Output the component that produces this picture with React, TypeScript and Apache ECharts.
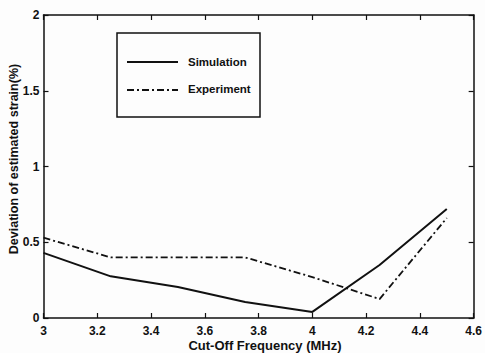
import React, { useEffect, useRef } from "react";
import * as echarts from "echarts";

const freqs = [3, 3.25, 3.5, 3.75, 4, 4.25, 4.5];
const simulation = [0.43, 0.275, 0.205, 0.105, 0.04, 0.35, 0.72];
const experiment = [0.53, 0.4, 0.4, 0.4, 0.27, 0.125, 0.66];
const seriesNames = ["Simulation", "Experiment"];
const xTitle = "Cut-Off Frequency (MHz)";
const yTitle = "Deviation of estimated strain(%)";

const FONT = "Liberation Sans, Arial, sans-serif";

export default function App() {
  const ref = useRef<HTMLDivElement>(null);
  useEffect(() => {
    if (!ref.current) return;
    const chart = echarts.init(ref.current, null, { renderer: "svg" });
    const axisCommon = {
      axisLine: { show: true, onZero: false, lineStyle: { color: "#111", width: 1.5 } },
      axisTick: { show: true, inside: true, length: 5, lineStyle: { color: "#111", width: 1.2 } },
      splitLine: { show: false },
    };
    const fmt = (v: number) => String(+v.toFixed(1));
    chart.setOption({
      animation: false,
      backgroundColor: "#fdfdfd",
      grid: { left: 43.5, right: 8, top: 15, bottom: 35, containLabel: false },
      xAxis: [
        {
          type: "value", min: 3, max: 4.6, interval: 0.2, position: "bottom",
          ...axisCommon,
          axisLabel: { color: "#111", fontSize: 12, fontFamily: FONT, margin: 7, formatter: fmt, fontWeight: "bold" },
        },
        {
          type: "value", min: 3, max: 4.6, interval: 0.2, position: "top",
          ...axisCommon, axisLabel: { show: false },
        },
      ],
      yAxis: [
        {
          type: "value", min: 0, max: 2, interval: 0.5, position: "left",
          ...axisCommon,
          axisLabel: { color: "#111", fontSize: 12, fontFamily: FONT, margin: 4, formatter: fmt, fontWeight: "bold" },
        },
        {
          type: "value", min: 0, max: 2, interval: 0.5, position: "right",
          ...axisCommon, axisLabel: { show: false },
        },
      ],
      series: [
        {
          name: seriesNames[0], type: "line", showSymbol: false, symbol: "none",
          data: freqs.map((f, i) => [f, simulation[i]]),
          lineStyle: { color: "#111", width: 2 },
        },
        {
          name: seriesNames[1], type: "line", showSymbol: false, symbol: "none",
          data: freqs.map((f, i) => [f, experiment[i]]),
          lineStyle: { color: "#111", width: 1.8, type: [7, 3, 2, 3] },
        },
      ],
      graphic: [
        {
          type: "text", x: 265, y: 345, z: 11,
          style: { text: xTitle, fill: "#111", font: `bold 13px ${FONT}`, align: "center", verticalAlign: "middle" },
        },
        {
          type: "text", x: 14, y: 159, rotation: Math.PI / 2, z: 11,
          style: { text: yTitle, fill: "#111", font: `bold 12.5px ${FONT}`, align: "center", verticalAlign: "middle" },
        },
        {
          type: "rect", shape: { x: 117, y: 33, width: 143, height: 84 },
          style: { fill: "#fdfdfd", stroke: "#111", lineWidth: 1.5 }, z: 10,
        },
        {
          type: "line", shape: { x1: 127, y1: 62, x2: 178, y2: 62 },
          style: { stroke: "#111", lineWidth: 1.8 }, z: 11,
        },
        {
          type: "line", shape: { x1: 127, y1: 90, x2: 178, y2: 90 },
          style: { stroke: "#111", lineWidth: 1.8, lineDash: [7, 3, 2, 3] }, z: 11,
        },
        {
          type: "text", x: 188, y: 62, z: 11,
          style: { text: seriesNames[0], fill: "#111", font: `bold 11.5px ${FONT}`, verticalAlign: "middle" },
        },
        {
          type: "text", x: 188, y: 89, z: 11,
          style: { text: seriesNames[1], fill: "#111", font: `bold 11.5px ${FONT}`, verticalAlign: "middle" },
        },
      ],
    });
    return () => chart.dispose();
  }, []);
  return <div ref={ref} style={{ width: 485, height: 353, position: "fixed", left: 0, top: 0 }} />;
}
